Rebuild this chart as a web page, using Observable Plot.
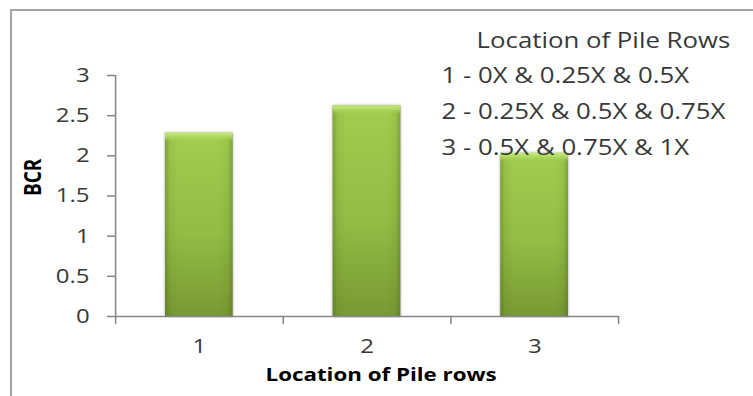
<!DOCTYPE html>
<html>
<head>
<meta charset="utf-8">
<script src="https://cdn.jsdelivr.net/npm/d3@7"></script>
<script src="https://cdn.jsdelivr.net/npm/@observablehq/plot@0.6"></script>
<style>
  html, body { margin: 0; padding: 0; background: #fff; }
  #chart { position: relative; width: 753px; height: 396px; overflow: hidden; }
  #frame { position: absolute; left: 10px; top: 9px; right: -10px; bottom: -10px;
           border-left: 2px solid #a3a3a3; border-top: 2px solid #a3a3a3; pointer-events: none; }
  #chart svg { position: absolute; left: 0; top: 0; }
</style>
</head>
<body>
<div id="chart"><div id="frame"></div></div>
<script>
// Bearing capacity ratio for each location of the pile rows
const rows = [1, 2, 3];
const bcr = [2.28, 2.62, 2.03];
const yTicks = [0, 0.5, 1, 1.5, 2, 2.5, 3];
const rowEdges = [0.5, 1.5, 2.5, 3.5];
const yTitle = "BCR";
const xTitle = "Location of Pile rows";
const noteTitle = "Location of Pile Rows";
const noteLines = [
  "1 - 0X & 0.25X & 0.5X",
  "2 - 0.25X & 0.5X & 0.75X",
  "3 - 0.5X & 0.75X & 1X"
];

const data = rows.map((r, i) => ({row: r, bcr: bcr[i]}));

// The chart is laid out in a narrower coordinate space and shown
// stretched horizontally to the full width (wide-set lettering).
const outW = 753, outH = 396, stretch = 1.2;
const W = outW / stretch;
const px = v => v / stretch; // horizontal pixels -> drawing units

const font = "'Open Sans', 'Liberation Sans', sans-serif";
const ink = "#383838";
const axisGray = "#868686";
const tickFont = 20;
const barInset = px(50);

const chart = Plot.plot({
  width: W,
  height: outH,
  marginLeft: px(115),
  marginRight: px(135),
  marginTop: 75,
  marginBottom: 80,
  style: {fontFamily: font, color: ink, background: "transparent", overflow: "visible"},
  x: {domain: [0.5, 3.5], axis: null},
  y: {domain: [0, 3], axis: null},
  marks: [
    // bar body
    Plot.rectY(data, {x1: d => d.row - 0.5, x2: d => d.row + 0.5, y: "bcr",
      insetLeft: barInset, insetRight: barInset, fill: "url(#barBody)", className: "bar-body"}),
    // darker side edges
    Plot.rectY(data, {x1: d => d.row - 0.5, x2: d => d.row + 0.5, y: "bcr",
      insetLeft: barInset, insetRight: barInset, fill: "url(#barEdges)"}),
    // light bevel along the top
    Plot.rectY(data, {x1: d => d.row - 0.5, x2: d => d.row + 0.5, y1: "bcr", y2: "bcr",
      insetLeft: barInset, insetRight: barInset, insetBottom: -9, fill: "url(#barBevel)"}),
    // axis lines and tick marks
    Plot.ruleX([0.5], {stroke: axisGray, strokeWidth: 1.3}),
    Plot.ruleY([0], {stroke: axisGray, strokeWidth: 1.5}),
    Plot.axisY(yTicks, {ticks: yTicks, tickSize: px(8), stroke: axisGray, strokeWidth: 1.5,
      tickFormat: () => "", label: null}),
    Plot.axisX(rowEdges, {ticks: rowEdges, tickSize: 8, stroke: axisGray, strokeWidth: 1.3,
      tickFormat: () => "", label: null}),
    // tick labels
    Plot.text(yTicks, {y: d => d, text: d => String(d), frameAnchor: "left", textAnchor: "end",
      dx: px(-26), fontSize: tickFont, fill: ink}),
    Plot.text(rows, {x: d => d, text: d => String(d), frameAnchor: "bottom",
      dy: 36, fontSize: tickFont, fill: ink}),
    // axis titles
    Plot.text([yTitle], {frameAnchor: "left", dx: px(-82), rotate: -90, fontWeight: "bold",
      fontSize: 19, fill: "#000"}),
    Plot.text([xTitle], {frameAnchor: "bottom", dx: px(14), dy: 64, fontWeight: "bold",
      fontSize: 18.6, fill: "#000"}),
    // note listing what each row location means
    Plot.text([noteTitle], {frameAnchor: "top-left", textAnchor: "start", lineAnchor: "bottom",
      dx: px(361), dy: -28, fontSize: 21.5, fill: ink}),
    Plot.text([noteLines.join("\n")], {frameAnchor: "top-left", textAnchor: "start",
      lineAnchor: "top", dx: px(326), dy: -18, fontSize: 21.5, lineHeight: 36 / 21.5, fill: ink})
  ]
});

// gradients used by the bars
const defs = d3.select(chart).insert("defs", ":first-child");
const body = defs.append("linearGradient").attr("id", "barBody")
  .attr("x1", 0).attr("y1", 0).attr("x2", 0).attr("y2", 1);
body.append("stop").attr("offset", "0%").attr("stop-color", "#a2cd4f");
body.append("stop").attr("offset", "55%").attr("stop-color", "#92bc44");
body.append("stop").attr("offset", "100%").attr("stop-color", "#789934");
const edges = defs.append("linearGradient").attr("id", "barEdges")
  .attr("x1", 0).attr("y1", 0).attr("x2", 1).attr("y2", 0);
[[0, 0.35], [0.07, 0.08], [0.2, 0], [0.8, 0], [0.93, 0.08], [1, 0.35]].forEach(([o, a]) =>
  edges.append("stop").attr("offset", o).attr("stop-color", "#3d5510").attr("stop-opacity", a));
const bevel = defs.append("linearGradient").attr("id", "barBevel")
  .attr("x1", 0).attr("y1", 0).attr("x2", 0).attr("y2", 1);
bevel.append("stop").attr("offset", "0%").attr("stop-color", "#c3e77e");
bevel.append("stop").attr("offset", "35%").attr("stop-color", "#b5dc68");
bevel.append("stop").attr("offset", "100%").attr("stop-color", "#a2cd4f").attr("stop-opacity", 0);

d3.select(chart).selectAll(".bar-body rect")
  .style("filter", "drop-shadow(0px 0px 1.5px rgba(0,0,0,0.35))");

// show the drawing stretched to the full output width
d3.select(chart)
  .attr("width", outW)
  .attr("height", outH)
  .attr("viewBox", `0 0 ${W} ${outH}`)
  .attr("preserveAspectRatio", "none")
  .style("max-width", "none");

document.getElementById("chart").appendChild(chart);
</script>
</body>
</html>
